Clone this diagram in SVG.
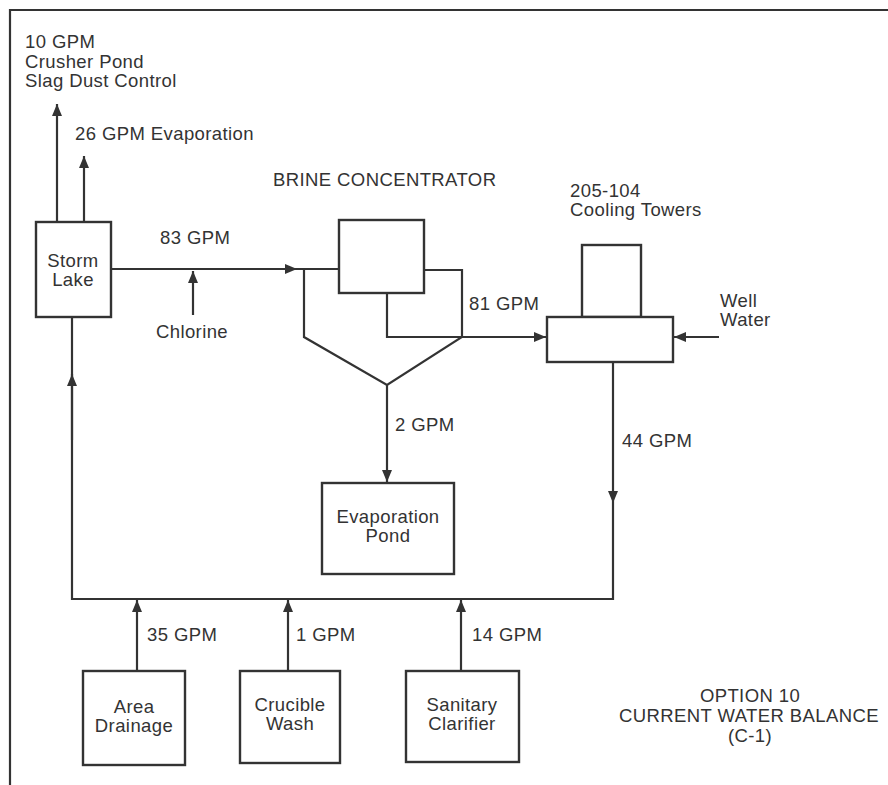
<svg xmlns="http://www.w3.org/2000/svg" width="888" height="785" viewBox="0 0 888 785">
<style>
.ln{fill:none;stroke:#333;stroke-width:2.2;stroke-linejoin:miter}
.bx{fill:#fff;stroke:#333;stroke-width:2.4}
text{font-family:"Liberation Sans",Arial,sans-serif;font-size:18.5px;letter-spacing:0.4px;fill:#333}
.c{text-anchor:middle}
</style>
<defs>
<marker id="ah" markerUnits="userSpaceOnUse" markerWidth="13" markerHeight="11" refX="12" refY="5" orient="auto">
<path d="M0,0 L12,5 L0,10 z" fill="#333"/>
</marker>
</defs>
<rect width="888" height="785" fill="#fff"/>
<path class="ln" d="M10,785 L10,10 L888,10"/>
<g id="connectors">
<path class="ln" d="M57,222 L57,104" marker-end="url(#ah)"/>
<path class="ln" d="M84,222 L84,156" marker-end="url(#ah)"/>
<path class="ln" d="M111,269 L297,269" marker-end="url(#ah)"/>
<path class="ln" d="M297,269 L339,269"/>
<path class="ln" d="M193,315 L193,271" marker-end="url(#ah)"/>
<path class="ln" d="M304,269 L304,337 L387,385 L462,337 L462,270 L424,270"/>
<path class="ln" d="M387,293 L387,337 L462,337 L546,337" marker-end="url(#ah)"/>
<path class="ln" d="M387,385 L387,482" marker-end="url(#ah)"/>
<path class="ln" d="M719,337 L674,337" marker-end="url(#ah)"/>
<path class="ln" d="M613,362 L613,503" marker-end="url(#ah)"/>
<path class="ln" d="M613,503 L613,599 L72,599 L72,378"/>
<path class="ln" d="M72,378 L72,318"/>
<path class="ln" d="M72,440 L72,374" marker-end="url(#ah)"/>
<path class="ln" d="M137,671 L137,600" marker-end="url(#ah)"/>
<path class="ln" d="M288,671 L288,600" marker-end="url(#ah)"/>
<path class="ln" d="M461,671 L461,600" marker-end="url(#ah)"/>
</g>
<g id="storm-lake">
<rect class="bx" x="36" y="222" width="75" height="95"/>
<text class="c" x="73" y="267">Storm</text>
<text class="c" x="73" y="286">Lake</text>
</g>
<g id="brine-concentrator">
<rect class="bx" x="339" y="220" width="85" height="73"/>
</g>
<g id="cooling-towers">
<rect class="bx" x="582" y="245" width="59" height="72"/>
<rect class="bx" x="547" y="317" width="126" height="45"/>
</g>
<g id="evaporation-pond">
<rect class="bx" x="322" y="483" width="132" height="91"/>
<text class="c" x="388" y="523">Evaporation</text>
<text class="c" x="388" y="542">Pond</text>
</g>
<g id="area-drainage">
<rect class="bx" x="83" y="671" width="102" height="94"/>
<text class="c" x="134" y="713">Area</text>
<text class="c" x="134" y="732">Drainage</text>
</g>
<g id="crucible-wash">
<rect class="bx" x="240" y="671" width="100" height="92"/>
<text class="c" x="290" y="711">Crucible</text>
<text class="c" x="290" y="730">Wash</text>
</g>
<g id="sanitary-clarifier">
<rect class="bx" x="406" y="671" width="113" height="91"/>
<text class="c" x="462" y="711">Sanitary</text>
<text class="c" x="462" y="730">Clarifier</text>
</g>
<g id="labels">
<text x="25" y="48">10 GPM</text>
<text x="25" y="68">Crusher Pond</text>
<text x="25" y="87">Slag Dust Control</text>
<text x="75" y="140">26 GPM Evaporation</text>
<text x="273" y="186">BRINE CONCENTRATOR</text>
<text x="570" y="197">205-104</text>
<text x="570" y="216">Cooling Towers</text>
<text x="160" y="244">83 GPM</text>
<text class="c" x="192" y="338">Chlorine</text>
<text x="469" y="310">81 GPM</text>
<text x="720" y="307">Well</text>
<text x="720" y="326">Water</text>
<text x="395" y="431">2 GPM</text>
<text x="622" y="447">44 GPM</text>
<text x="147" y="641">35 GPM</text>
<text x="296" y="641">1 GPM</text>
<text x="472" y="641">14 GPM</text>
<text class="c" x="750" y="702">OPTION 10</text>
<text class="c" x="749" y="722">CURRENT WATER BALANCE</text>
<text class="c" x="750" y="742">(C-1)</text>
</g>
</svg>
